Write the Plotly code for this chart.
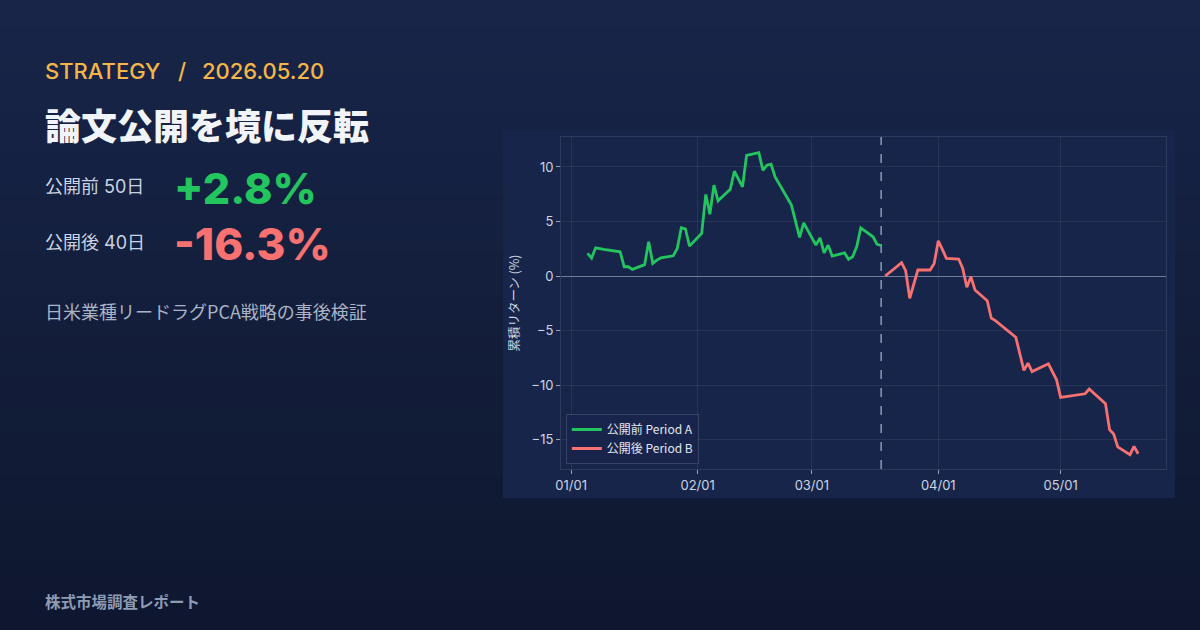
import plotly.graph_objects as go

# ---------------- data ----------------
dates_a = ["2026-01-05", "2026-01-06", "2026-01-07", "2026-01-09", "2026-01-13", "2026-01-14",
           "2026-01-15", "2026-01-16", "2026-01-19", "2026-01-20", "2026-01-21", "2026-01-22",
           "2026-01-23", "2026-01-26", "2026-01-27", "2026-01-28", "2026-01-29", "2026-01-30",
           "2026-02-02", "2026-02-03", "2026-02-04", "2026-02-05", "2026-02-06", "2026-02-09",
           "2026-02-10", "2026-02-12", "2026-02-13", "2026-02-16", "2026-02-17", "2026-02-18",
           "2026-02-19", "2026-02-20", "2026-02-24", "2026-02-26", "2026-02-27", "2026-03-02",
           "2026-03-03", "2026-03-04", "2026-03-05", "2026-03-06", "2026-03-09", "2026-03-10",
           "2026-03-11", "2026-03-12", "2026-03-13", "2026-03-16", "2026-03-17", "2026-03-18"]
values_a = [2.08, 1.65, 2.59, 2.44, 2.22, 0.85,
            0.85, 0.61, 1.04, 3.14, 1.16, 1.46,
            1.67, 1.85, 2.53, 4.42, 4.33, 2.74,
            3.92, 7.48, 5.67, 8.33, 6.90, 7.96,
            9.61, 8.17, 11.07, 11.32, 9.70, 10.16,
            10.25, 9.09, 6.50, 3.54, 4.88, 2.83,
            3.50, 2.13, 2.83, 1.83, 2.13, 1.53,
            1.77, 2.68, 4.42, 3.60, 2.90, 2.80]

dates_b = ["2026-03-19", "2026-03-23", "2026-03-24", "2026-03-25", "2026-03-27", "2026-03-30",
           "2026-03-31", "2026-04-01", "2026-04-02", "2026-04-03", "2026-04-06", "2026-04-07",
           "2026-04-08", "2026-04-09", "2026-04-10", "2026-04-13", "2026-04-14", "2026-04-15",
           "2026-04-20", "2026-04-22", "2026-04-23", "2026-04-24", "2026-04-28", "2026-04-30",
           "2026-05-01", "2026-05-07", "2026-05-08", "2026-05-11", "2026-05-12", "2026-05-13",
           "2026-05-14", "2026-05-15", "2026-05-18", "2026-05-19", "2026-05-20"]
values_b = [0.0, 1.22, 0.49, -2.04, 0.55, 0.55,
            1.16, 3.23, 2.44, 1.62, 1.56, 0.70,
            -1.03, -0.06, -1.28, -2.26, -3.87, -4.09,
            -5.61, -8.66, -7.99, -8.76, -8.05, -9.52,
            -11.13, -10.80, -10.37, -11.44, -11.71, -14.09,
            -14.49, -15.67, -16.38, -15.62, -16.30]

name_a = "公開前 Period A"
name_b = "公開後 Period B"
split_date = "2026-03-18"
y_ticks = [-15, -10, -5, 0, 5, 10]
x_range = ["2025-12-29 12:00", "2026-05-26 20:00"]
y_range = [-17.7, 12.75]

# ---------------- layout helpers ----------------
W, H = 1200, 630
L, R, T, B = 561, 34, 137, 161
PW, PH = W - L - R, H - T - B


def px(x):
    return (x - L) / PW


def py(y):
    return (H - B - y) / PH


def mix(c1, c2, t):
    a = [int(c1[i:i + 2], 16) for i in (1, 3, 5)]
    b = [int(c2[i:i + 2], 16) for i in (1, 3, 5)]
    return "rgb(%d,%d,%d)" % tuple(round(a[k] + (b[k] - a[k]) * t) for k in range(3))


FONT = "Inter, 'Noto Sans CJK JP', sans-serif"
CJK = "'Noto Sans CJK JP', Inter, sans-serif"
GREEN = "#22c55e"
RED = "#f87171"

fig = go.Figure()
fig.add_trace(go.Scatter(x=dates_a, y=values_a, mode="lines", name=name_a,
                         line=dict(color=GREEN, width=2.8)))
fig.add_trace(go.Scatter(x=dates_b, y=values_b, mode="lines", name=name_b,
                         line=dict(color=RED, width=2.8)))

shapes = []
# page background gradient
n = 45
top_c, bot_c = "#182549", "#0e172e"
for i in range(n):
    y0 = H * i / n
    y1 = H * (i + 1) / n + 1
    shapes.append(dict(type="rect", xref="paper", yref="paper", layer="below",
                       x0=px(-5), x1=px(W + 5), y0=py(y1), y1=py(y0),
                       fillcolor=mix(top_c, bot_c, (i + 0.5) / n), line=dict(width=0)))
# chart panel
shapes.append(dict(type="rect", xref="paper", yref="paper", layer="below",
                   x0=px(503), x1=px(1175), y0=py(498), y1=py(130),
                   fillcolor="#18254b", line=dict(width=0)))
# split line
shapes.append(dict(type="line", xref="x", yref="paper", layer="below",
                   x0=split_date, x1=split_date, y0=0, y1=1,
                   line=dict(color="#8d9bb4", width=1.5, dash="dash")))

ann = []


def text(x, y, s, size, color, weight=400, family=FONT, xanchor="left"):
    ann.append(dict(xref="paper", yref="paper", x=px(x), y=py(y), text=s, showarrow=False,
                    xanchor=xanchor, yanchor="middle",
                    font=dict(size=size, color=color, family=family, weight=weight)))


AMBER = "#f5b649"
text(43, 71, "STRATEGY", 22, AMBER, weight=500)
text(182, 71, "/", 22, AMBER, weight=500, xanchor="center")
text(200, 71, "2026.05.20", 22, AMBER, weight=500)
text(43, 124, "論文公開を境に反転", 36, "#f1f5f9", weight=900, family=CJK)
text(43, 186, "公開前 50日", 18, "#c9d3e3", family=FONT)
text(43, 242, "公開後 40日", 18, "#c9d3e3", family=FONT)
text(172, 188, "+2.8%", 43, GREEN, weight=800)
text(172, 244, "-16.3%", 44, RED, weight=800)
text(43, 311, "日米業種リードラグPCA戦略の事後検証", 18, "#aab4c6", family=CJK)
text(43, 601, "株式市場調査レポート", 15.5, "#8e9bb5", weight=700, family=CJK)

axis_common = dict(showgrid=True, gridcolor="rgba(148,163,184,0.12)", gridwidth=1,
                   showline=True, linecolor="rgba(148,163,184,0.18)", mirror=True,
                   ticks="outside", ticklen=4, tickcolor="rgba(203,213,225,0.7)",
                   tickfont=dict(size=13, color="#cbd5e1", family=FONT))

fig.update_layout(
    width=W, height=H,
    margin=dict(l=L, r=R, t=T, b=B, autoexpand=False),
    paper_bgcolor="#131e3c",
    plot_bgcolor="rgba(0,0,0,0)",
    shapes=shapes,
    annotations=ann,
    showlegend=True,
    legend=dict(x=0.008, y=0.015, xanchor="left", yanchor="bottom",
                bgcolor="rgba(24,37,75,0.9)", bordercolor="rgba(148,163,184,0.25)",
                borderwidth=1, font=dict(size=12, color="#e2e8f0", family=CJK),
                itemwidth=30, tracegroupgap=0),
    xaxis=dict(type="date", range=x_range, tickformat="%m/%d", dtick="M1",
               tick0="2026-01-01", zeroline=False, **axis_common),
    yaxis=dict(range=y_range, tickvals=y_ticks, zeroline=True,
               zerolinecolor="#6f7d98", zerolinewidth=1,
               title=dict(text="累積リターン (%)", standoff=8,
                          font=dict(size=12.5, color="#cbd5e1", family=CJK)),
               **axis_common),
)

fig.write_html("out.html", config={"displayModeBar": False},
               post_script="document.body.style.margin='0';document.body.style.background='#0e172e';")
